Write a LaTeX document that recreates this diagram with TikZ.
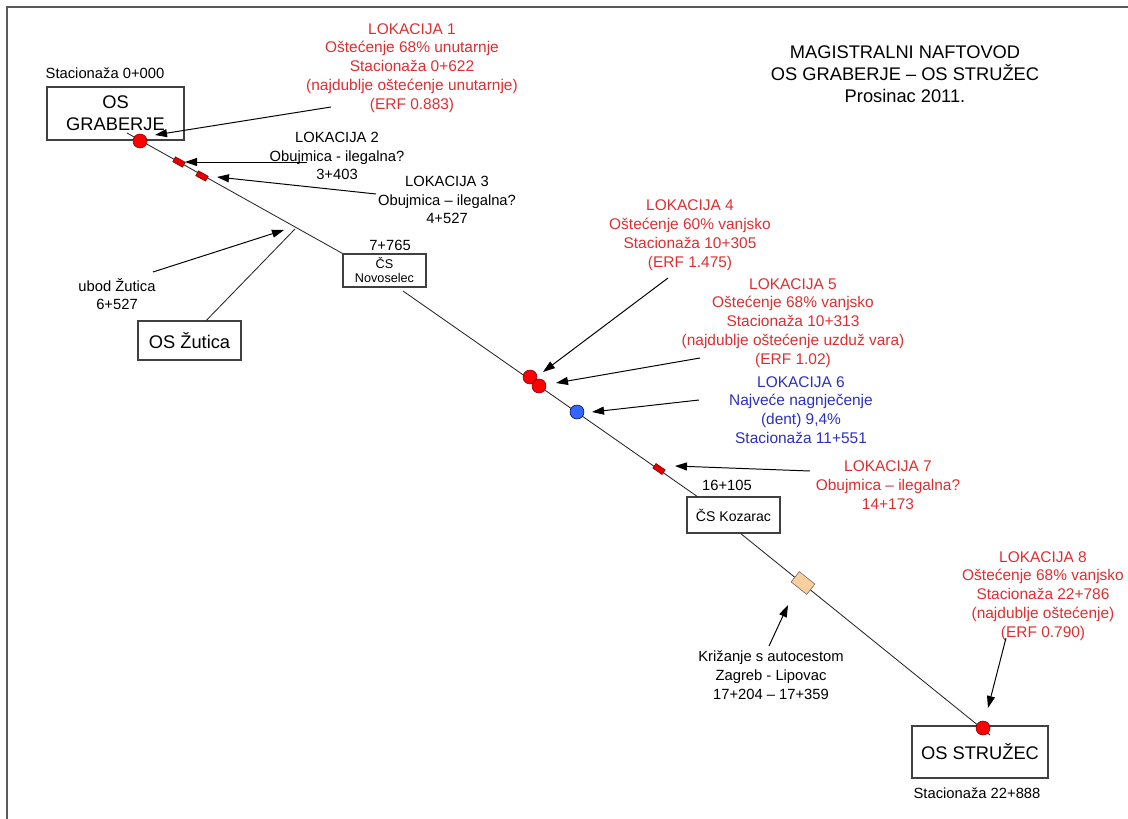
\documentclass[tikz,border=0pt]{standalone}
\usepackage{fontspec}
\setmainfont{Liberation Sans}
\usetikzlibrary{arrows.meta}
\definecolor{lokred}{RGB}{222,46,48}
\definecolor{lokblue}{RGB}{44,48,190}
\definecolor{crossfill}{RGB}{250,206,158}
\tikzset{
  station/.style={draw=black!75,line width=0.8pt,align=center,inner sep=0pt,font=\fontsize{13}{15.6}\selectfont},
  note/.style={align=center,inner sep=0pt,font=\fontsize{10.5}{13.3}\selectfont},
  lok/.style={align=center,inner sep=0pt,font=\fontsize{11}{13.4}\selectfont,text=lokred},
  pipe/.style={line width=0.6pt,black!85},
  pointer/.style={->,line width=0.7pt},
  dmg/.style={circle,draw=red!50!black,fill=red,minimum size=3.5mm,inner sep=0pt},
  clamp/.style={rectangle,draw=red!50!black,fill=red!90!black,minimum width=2.8mm,minimum height=1.4mm,inner sep=0pt,rotate=-29},
}
\begin{document}
\begin{tikzpicture}[x=0.025cm,y=-0.025cm,>={Triangle[length=3mm,width=2mm]}]
  \useasboundingbox (0,0) rectangle (1128,819);
  % frame
  \draw[black!65,line width=1.2pt] (7,819) -- (7,7) -- (1128,7);

  % title
  \node[align=center,font=\fontsize{13}{15.6}\selectfont] (title) at (905,74)
    {MAGISTRALNI NAFTOVOD\\OS GRABERJE -- OS STRUŽEC\\Prosinac 2011.};

  % stations
  \node[station,minimum width=3.425cm,minimum height=1.325cm] (gra) at (115.5,113.5) {OS\\GRABERJE};
  \node[note] (gra0) at (105,73) {Stacionaža 0+000};
  \node[station,minimum width=2.575cm,minimum height=0.975cm] (zut) at (189.5,340.5) {OS Žutica};
  \node[station,minimum width=2.075cm,minimum height=0.825cm,font=\fontsize{9}{10}\selectfont] (nov) at (384.5,270.5) {ČS\\Novoselec};
  \node[note] (nov0) at (390,245) {7+765};
  \node[station,minimum width=2.325cm,minimum height=0.9cm,font=\fontsize{10}{12}\selectfont] (koz) at (733.5,515) {ČS Kozarac};
  \node[note] (koz0) at (727,485) {16+105};
  \node[station,minimum width=3.4cm,minimum height=1.3cm] (str) at (980,752) {OS STRUŽEC};
  \node[note] (str0) at (977,793) {Stacionaža 22+888};

  % pipeline
  \coordinate (p0) at (127,133);
  \coordinate (p1) at (403,291);
  \coordinate (p2) at (698,497);
  \coordinate (p3) at (740,533);
  \coordinate (p4) at (990,735);
  \coordinate (zj) at (295,229);
  \draw[pipe] (p0) -- (nov.north west);
  \draw[pipe] (p1) -- (p2);
  \draw[pipe] (p3) -- (p4);
  \draw[pipe] (zut.50) -- (zj);

  % markers
  \node[dmg] (d1) at (140,141) {};
  \node[clamp] (c2) at (179,162) {};
  \node[clamp] (c3) at (202,176) {};
  \node[dmg] (d4) at (530,377) {};
  \node[dmg] (d5) at (539,386) {};
  \node[dmg,draw=blue!40!black,fill={rgb,255:red,51;green,102;blue,255}] (d6) at (577,412) {};
  \node[clamp,rotate=-5.8] (c7) at (659,469) {};
  \node[rectangle,draw=black!60,fill=crossfill,minimum width=5mm,minimum height=3.3mm,inner sep=0pt,rotate=-38.7] (cr) at (803,583) {};
  \node[dmg] (d8) at (983,728) {};

  % labels
  \node[lok] (lok1) at (412,68) {LOKACIJA 1\\Oštećenje 68\% unutarnje\\Stacionaža 0+622\\(najdublje oštećenje unutarnje)\\(ERF 0.883)};
  \node[note] (lok2) at (337,156) {LOKACIJA 2\\Obujmica - ilegalna?\\3+403};
  \node[note] (lok3) at (447,200) {LOKACIJA 3\\Obujmica -- ilegalna?\\4+527};
  \node[note] (ubod) at (117,294) {ubod Žutica\\6+527};
  \node[lok] (lok4) at (690,235) {LOKACIJA 4\\Oštećenje 60\% vanjsko\\Stacionaža 10+305\\(ERF 1.475)};
  \node[lok] (lok5) at (793,323) {LOKACIJA 5\\Oštećenje 68\% vanjsko\\Stacionaža 10+313\\(najdublje oštećenje uzduž vara)\\(ERF 1.02)};
  \node[lok,text=lokblue] (lok6) at (801,410) {LOKACIJA 6\\Najveće nagnječenje\\(dent) 9,4\%\\Stacionaža 11+551};
  \node[lok] (lok7) at (888,485) {LOKACIJA 7\\Obujmica -- ilegalna?\\14+173};
  \node[note] (krz) at (771,675) {Križanje s autocestom\\Zagreb - Lipovac\\17+204 -- 17+359};
  \node[lok] (lok8) at (1043,596) {LOKACIJA 8\\Oštećenje 68\% vanjsko\\Stacionaža 22+786\\(najdublje oštećenje)\\(ERF 0.790)};

  % pointers
  \coordinate (a1) at (331,107);  \coordinate (t1) at (155,135);
  \coordinate (a2) at (307,162);  \coordinate (t2) at (185,162);
  \coordinate (a3) at (376,194);  \coordinate (t3) at (217,177);
  \coordinate (au) at (153,272);  \coordinate (tu) at (284,230);
  \coordinate (a4) at (668,278);  \coordinate (t4) at (543,372);
  \coordinate (a5) at (700,358);  \coordinate (t5) at (556,383);
  \coordinate (a6) at (699,400);  \coordinate (t6) at (592,412);
  \coordinate (a7) at (810,471);  \coordinate (t7) at (675,466);
  \coordinate (ak) at (769,646);  \coordinate (tk) at (788,605);
  \coordinate (a8) at (1006,638); \coordinate (t8) at (988,708);
  \foreach \s/\t in {a1/t1,a2/t2,a3/t3,au/tu,a4/t4,a5/t5,a6/t6,a7/t7,ak/tk,a8/t8}
    \draw[pointer] (\s) -- (\t);
\end{tikzpicture}
\end{document}
